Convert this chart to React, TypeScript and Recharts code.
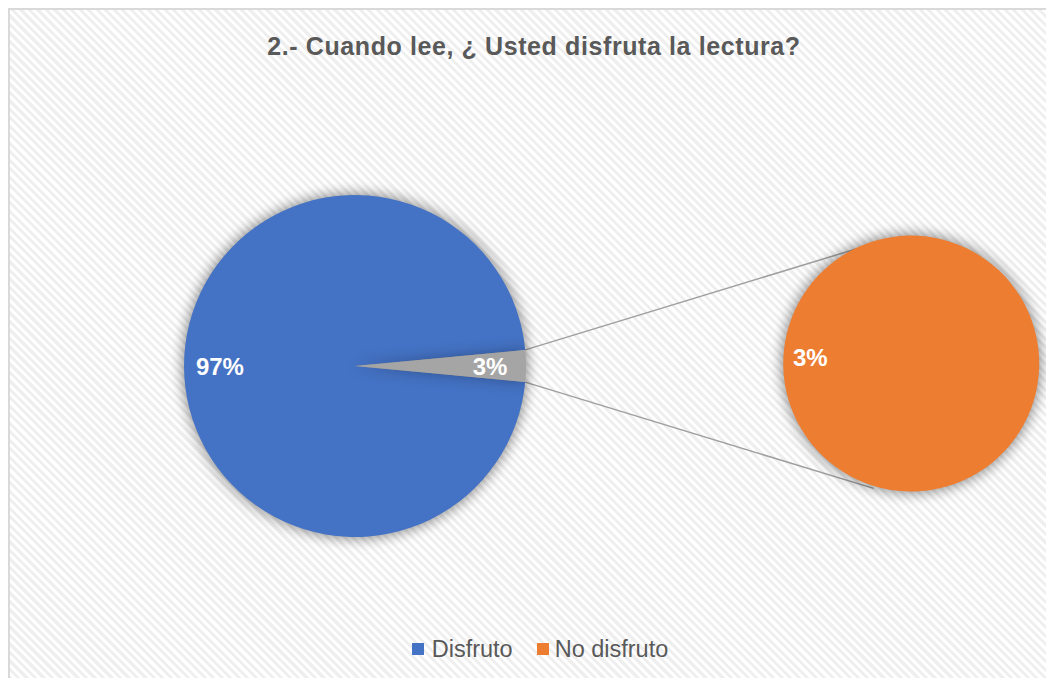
import { Cell, Legend, Pie, PieChart } from 'recharts'

const categories = ['Disfruto', 'No disfruto']
const mainValues = [97, 3] // Disfruto, grupo "otros" que se abre en el segundo pie
const secondValues = [3] // No disfruto
const title = '2.- Cuando lee, ¿ Usted disfruta la lectura?'

const BLUE = '#4472C4'
const GRAY = '#A5A5A5'
const ORANGE = '#ED7D31'
const TEXT = '#595959'
const FONT = '"Liberation Sans", Arial, sans-serif'

const W = 1046
const H = 670
const M = 5 // recharts default margin
const MAIN = { cx: 347, cy: 358, r: 171 }
const SECOND = { cx: 903, cy: 358, r: 128 }

const mainData = [
  { name: categories[0], value: mainValues[0] },
  { name: 'Otro', value: mainValues[1] },
]
const secondData = [{ name: categories[1], value: secondValues[0] }]

const total = mainValues.reduce((a, b) => a + b, 0)
const halfGap = (mainValues[1] / total) * 180

const RAD = Math.PI / 180

function renderLabel(props: any) {
  const { cx, cy, midAngle, outerRadius, value } = props
  const r = outerRadius * 0.79
  const x = cx + r * Math.cos(-midAngle * RAD)
  const y = cy + r * Math.sin(-midAngle * RAD)
  return (
    <text
      x={x}
      y={y}
      fill="#fff"
      fontFamily={FONT}
      fontWeight="bold"
      fontSize={24}
      textAnchor="middle"
      dominantBaseline="central"
    >
      {`${value}%`}
    </text>
  )
}

function Connectors() {
  const endAngle = 107
  const p = (c: typeof MAIN, deg: number) => ({
    x: c.cx + c.r * Math.cos(deg * RAD),
    y: c.cy - c.r * Math.sin(deg * RAD),
  })
  const a1 = p(MAIN, halfGap)
  const a2 = p(MAIN, -halfGap)
  const b1 = p(SECOND, endAngle)
  const b2 = p(SECOND, -endAngle)
  return (
    <g>
      <line x1={a1.x} y1={a1.y} x2={b1.x} y2={b1.y} stroke="#a0a0a0" strokeWidth={1.5} />
      <line x1={a2.x} y1={a2.y} x2={b2.x} y2={b2.y} stroke="#a0a0a0" strokeWidth={1.5} />
    </g>
  )
}

function LegendContent() {
  const colors = [BLUE, ORANGE]
  return (
    <div style={{ display: 'flex', justifyContent: 'center', alignItems: 'center', paddingLeft: 18, height: 28, fontFamily: FONT, fontSize: 23.5, color: TEXT }}>
      {categories.map((c, i) => (
        <div key={c} style={{ display: 'flex', alignItems: 'center', marginRight: i === 0 ? 24 : 0 }}>
          <span style={{ width: 12, height: 12, background: colors[i], display: 'inline-block', marginRight: i === 0 ? 8 : 6 }} />
          <span>{c}</span>
        </div>
      ))}
    </div>
  )
}

export default function App() {
  return (
    <div
      style={{
        position: 'relative',
        width: W,
        height: H,
        overflow: 'hidden',
        background: 'repeating-linear-gradient(45deg, #efefef 0px, #efefef 3px, #ffffff 3px, #ffffff 6px)',
      }}
    >
      <style>{`.pie-shadow { filter: drop-shadow(0 0 7px rgba(0,0,0,0.28)); }`}</style>
      <div
        style={{
          position: 'absolute',
          left: 0,
          top: 0,
          width: W,
          height: H,
          borderLeft: '2px solid #d9d9d9',
          borderTop: '2px solid #d9d9d9',
          boxSizing: 'border-box',
        }}
      />
      <div
        style={{
          position: 'absolute',
          top: 24,
          left: 0,
          width: W,
          paddingLeft: 6,
          boxSizing: 'border-box',
          textAlign: 'center',
          fontFamily: FONT,
          fontWeight: 'bold',
          fontSize: 25,
          letterSpacing: 0.6,
          color: TEXT,
        }}
      >
        {title}
      </div>
      <div style={{ position: 'absolute', left: 0, top: 0 }}>
        <PieChart width={W} height={H} margin={{ top: M, right: M, bottom: M, left: M }}>
          <Pie
            data={mainData}
            dataKey="value"
            nameKey="name"
            cx={MAIN.cx - M}
            cy={MAIN.cy - M}
            outerRadius={MAIN.r}
            startAngle={-halfGap}
            endAngle={-halfGap - 360}
            stroke="none"
            label={renderLabel}
            labelLine={false}
            className="pie-shadow"
            isAnimationActive={false}
          >
            <Cell fill={BLUE} />
            <Cell fill={GRAY} />
          </Pie>
          <Pie
            data={secondData}
            dataKey="value"
            nameKey="name"
            cx={SECOND.cx - M}
            cy={SECOND.cy - M}
            outerRadius={SECOND.r}
            startAngle={-5}
            endAngle={355}
            stroke="none"
            label={renderLabel}
            labelLine={false}
            className="pie-shadow"
            isAnimationActive={false}
          >
            <Cell fill={ORANGE} />
          </Pie>
          <Connectors />
          <Legend
            content={() => <LegendContent />}
            wrapperStyle={{ top: 627, left: 0, width: W, bottom: 'auto' }}
          />
        </PieChart>
      </div>
    </div>
  )
}
